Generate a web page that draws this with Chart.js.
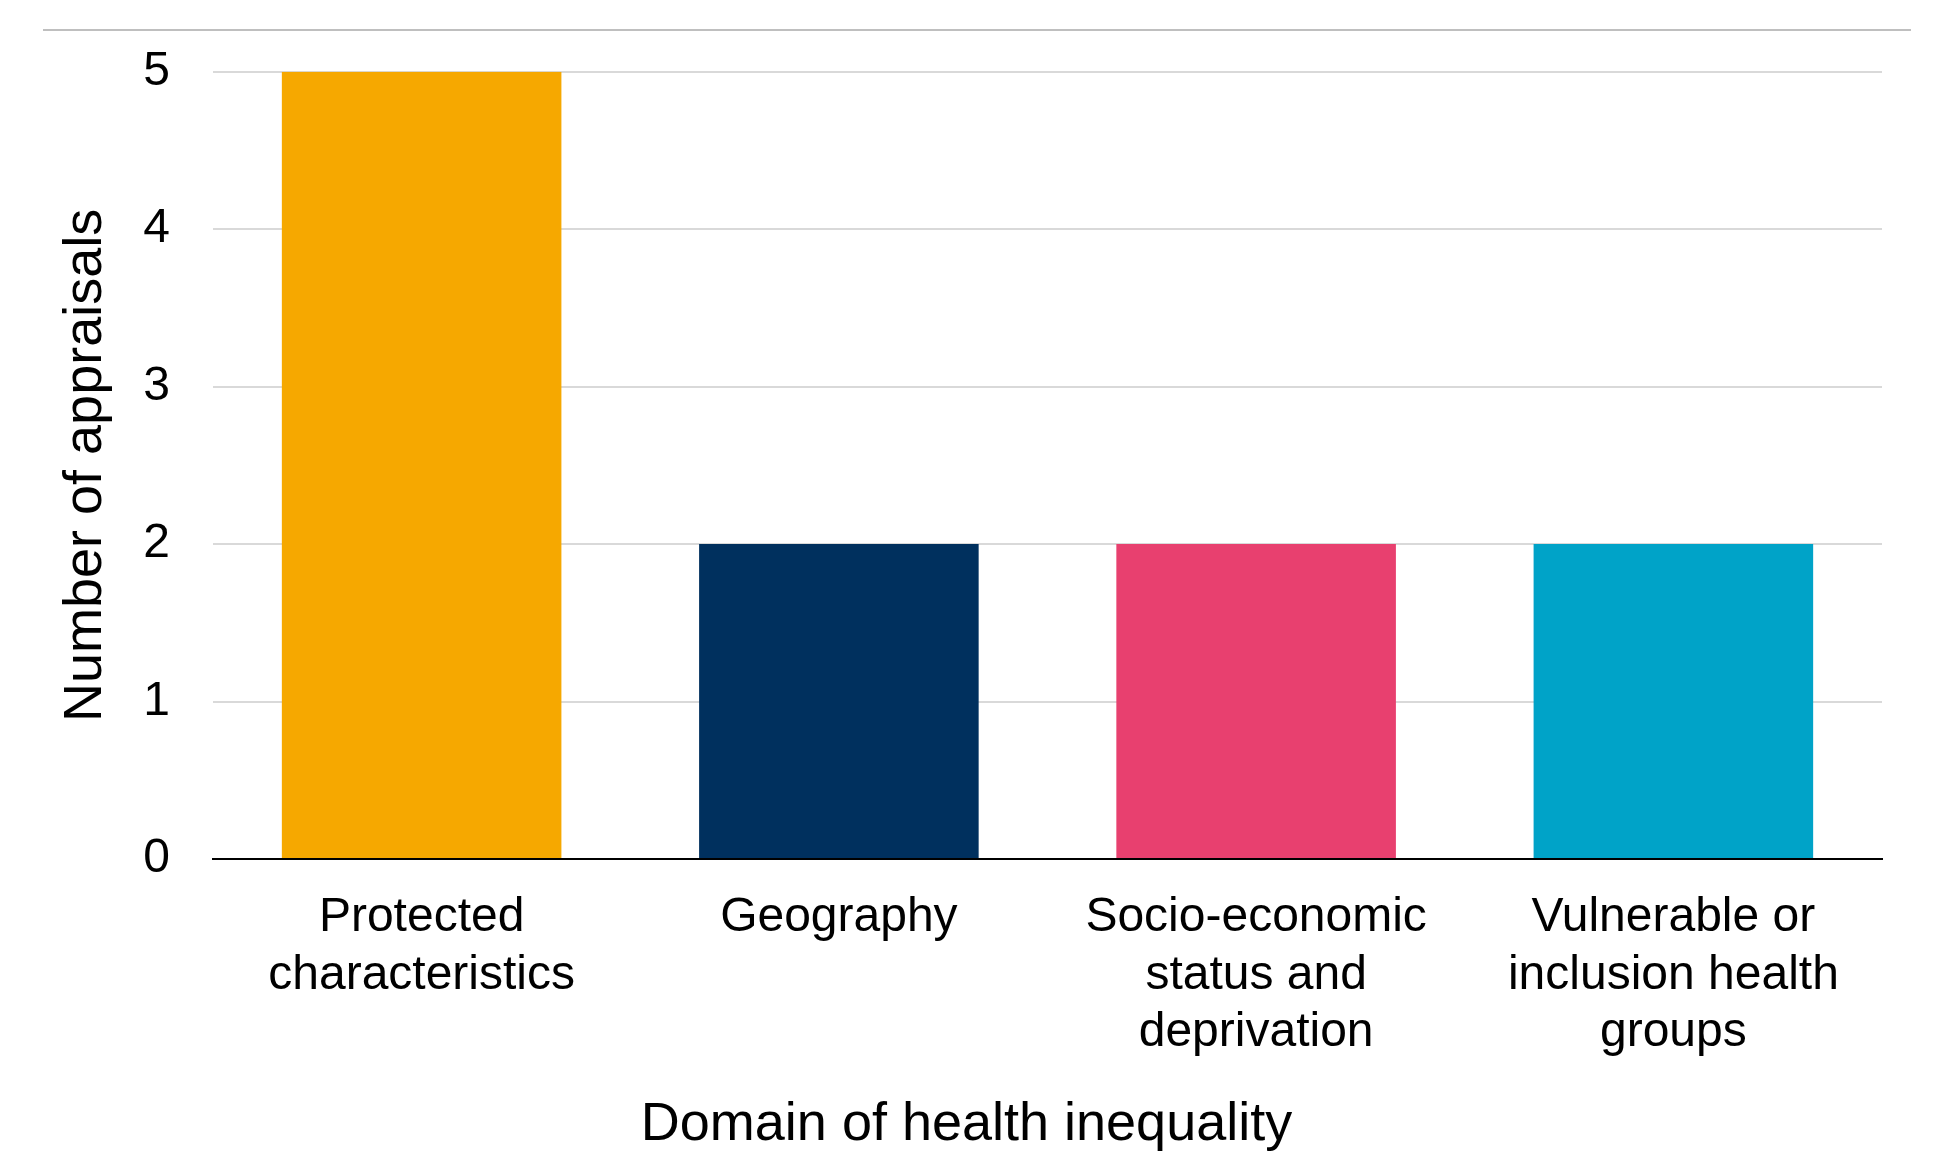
<!doctype html>
<html lang="en">

<head>
    <meta charset="utf-8">
    <title>Domain of health inequality</title>
    <style>
        html, body { margin: 0; padding: 0; background: #fff; }
        #wrap { position: relative; width: 1933px; height: 1152px; }
    </style>
</head>

<body>
    <div id="wrap"><canvas id="chart" width="1933" height="1152"></canvas></div>

    <script src="https://cdn.jsdelivr.net/npm/chart.js"></script>
    <script>
        // data
        const categories = [
            ['Protected', 'characteristics'],
            ['Geography'],
            ['Socio-economic', 'status and', 'deprivation'],
            ['Vulnerable or', 'inclusion health', 'groups']
        ];
        const appraisals = [5, 2, 2, 2];
        const barColours = ['#F6A800', '#00305E', '#E8406F', '#00A3C8'];
        const yTicks = [0, 1, 2, 3, 4, 5];

        const family = '"Liberation Sans", Arial, sans-serif';
        const tickFont = { family: family, size: 48 };
        const titleFont = { family: family, size: 54 };

        // thin grey rule across the top of the figure
        const topRule = {
            id: 'topRule',
            beforeDraw(chart) {
                const c = chart.ctx;
                c.save();
                c.strokeStyle = '#bfbfbf';
                c.lineWidth = 2;
                c.beginPath();
                c.moveTo(43, 30);
                c.lineTo(1911, 30);
                c.stroke();
                c.restore();
            }
        };

        new Chart(document.getElementById('chart'), {
            type: 'bar',
            data: {
                labels: categories,
                datasets: [{
                    label: 'Number of appraisals',
                    data: appraisals,
                    backgroundColor: barColours,
                    borderWidth: 0,
                    barPercentage: 0.67,
                    categoryPercentage: 1
                }]
            },
            options: {
                responsive: false,
                animation: false,
                layout: { padding: { top: 70, right: 51, bottom: 0, left: 51 } },
                plugins: {
                    legend: { display: false },
                    tooltip: { enabled: false },
                    // x axis title is centred on the whole figure, so use the chart title
                    title: {
                        display: true, position: 'bottom', text: 'Domain of health inequality',
                        color: '#000', font: { family: family, size: 54, lineHeight: 1.0, weight: 'normal' },
                        padding: 0
                    }
                },
                scales: {
                    x: {
                        grid: { display: false, drawTicks: false },
                        border: { display: true, color: '#000', width: 2 },
                        ticks: { color: '#000', font: tickFont, padding: 30, maxRotation: 0, autoSkip: false },
                        afterFit(scale) { scale.height = 239; }
                    },
                    y: {
                        min: 0,
                        max: 5,
                        afterBuildTicks(scale) { scale.ticks = yTicks.map(v => ({ value: v })); },
                        grid: { color: '#d9d9d9', lineWidth: 2, drawTicks: false },
                        border: { display: false },
                        ticks: { color: '#000', font: tickFont, padding: 43 },
                        title: {
                            display: true, text: 'Number of appraisals', color: '#000',
                            font: titleFont, padding: { top: 3, bottom: 0 }
                        },
                        afterFit(scale) { scale.width = 162; }
                    }
                }
            },
            plugins: [topRule]
        });
    </script>
</body>

</html>
